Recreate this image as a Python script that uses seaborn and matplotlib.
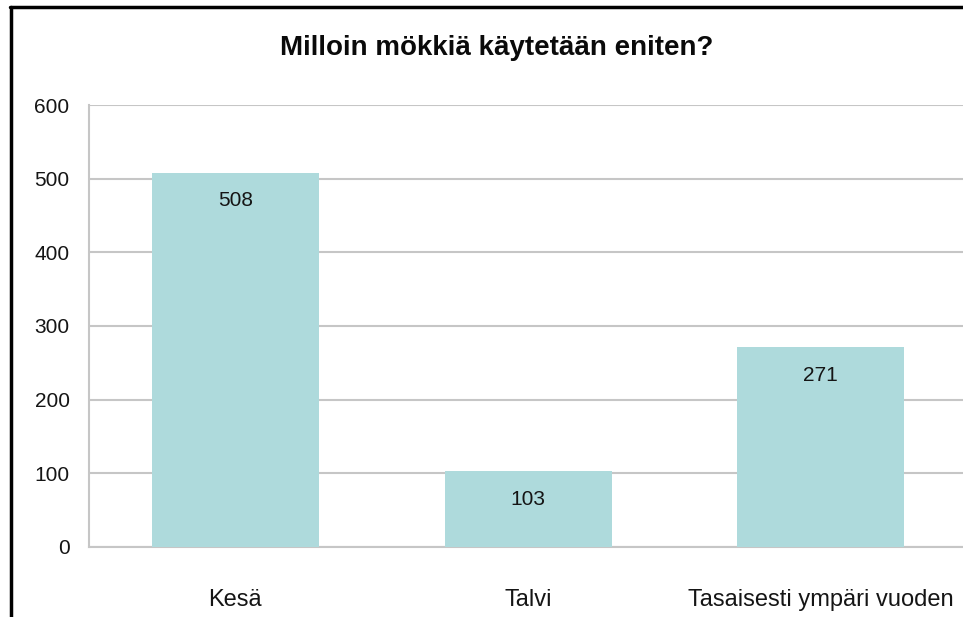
import matplotlib
matplotlib.use("Agg")
import matplotlib.pyplot as plt
from matplotlib.lines import Line2D
import seaborn as sns
import pandas as pd

# Data
categories = ["Kesä", "Talvi", "Tasaisesti ympäri vuoden"]
counts = [508, 103, 271]
y_ticks = [0, 100, 200, 300, 400, 500, 600]

title = "Milloin mökkiä käytetään eniten?"
bar_color = "#aedadc"
grid_color = "#c6c6c6"
text_color = "#151515"

sns.set_theme(style="white")
plt.rcParams["font.family"] = ["Liberation Sans", "DejaVu Sans"]

df = pd.DataFrame({"Kausi": categories, "Määrä": counts})

fig = plt.figure(figsize=(9.63, 6.17), dpi=100)
ax = fig.add_axes([0.0924, 0.1135, 0.912, 0.7163])

sns.barplot(data=df, x="Kausi", y="Määrä", color=bar_color, width=0.57,
            saturation=1, linewidth=0, ax=ax, zorder=3)

ax.set_ylim(0, 600)
ax.set_xlim(-0.5, 2.5)
ax.set_yticks(y_ticks)
ax.set_yticklabels([str(t) for t in y_ticks], fontsize=15, color=text_color)
ax.tick_params(axis="x", labelsize=17, labelcolor=text_color, pad=30, length=0)
ax.tick_params(axis="y", pad=14, length=0)
ax.set_xlabel("")
ax.set_ylabel("")

ax.yaxis.grid(True, color=grid_color, linewidth=1.5, zorder=0)
ax.set_axisbelow(True)
for side in ["top", "right"]:
    ax.spines[side].set_visible(False)
ax.spines["left"].set_color(grid_color)
ax.spines["left"].set_linewidth(1.5)
ax.spines["bottom"].set_color(grid_color)
ax.spines["bottom"].set_linewidth(1.5)

for cont in ax.containers:
    ax.bar_label(cont, padding=-27, fontsize=15, color=text_color)

fig.text(0.516, 0.922, title, ha="center", va="center", fontsize=20,
         fontweight="bold", color="#0a0a0a")

# black frame lines on left and top
fig.add_artist(Line2D([0.0114, 0.0114], [0.0, 0.988], transform=fig.transFigure,
                      color="black", linewidth=2.5))
fig.add_artist(Line2D([0.0105, 1.0], [0.988, 0.988], transform=fig.transFigure,
                      color="black", linewidth=2.5))

fig.savefig("out.png", dpi=100)
